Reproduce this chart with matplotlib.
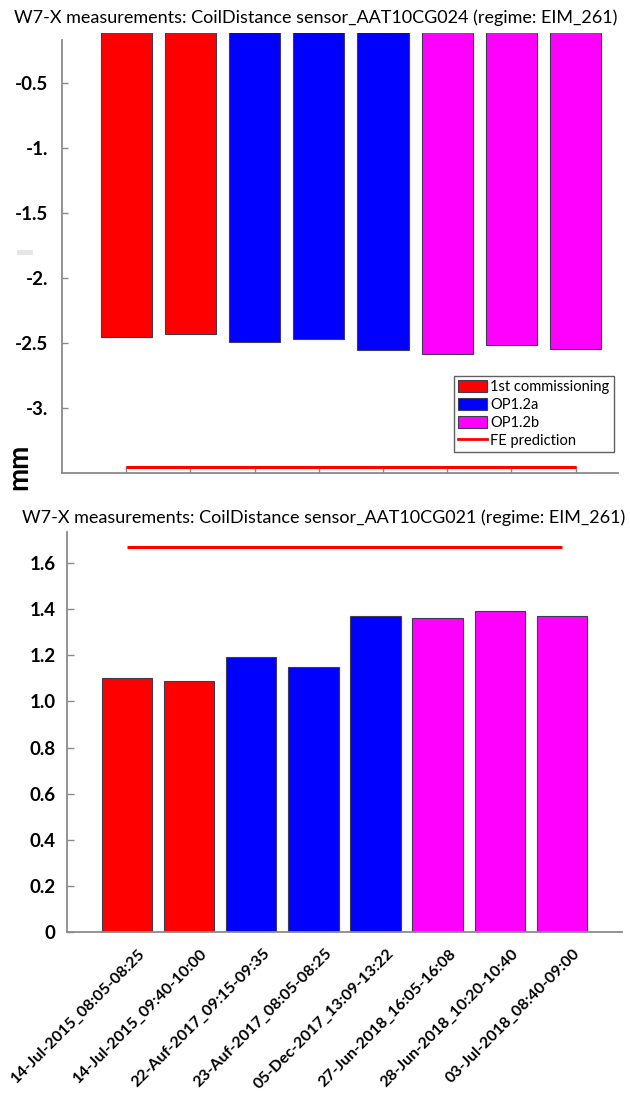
import numpy as np
import matplotlib
matplotlib.use("Agg")
import matplotlib.pyplot as plt
from matplotlib.patches import Patch, Rectangle
from matplotlib.lines import Line2D
from matplotlib.transforms import ScaledTranslation

plt.rcParams['font.family'] = ['Lato', 'DejaVu Sans']

# measurement windows
labels = ["14-Jul-2015_08:05-08:25", "14-Jul-2015_09:40-10:00",
          "22-Auf-2017_09:15-09:35", "23-Auf-2017_08:05-08:25",
          "05-Dec-2017_13:09-13:22", "27-Jun-2018_16:05-16:08",
          "28-Jun-2018_10:20-10:40", "03-Jul-2018_08:40-09:00"]
campaign = ["1st commissioning", "1st commissioning",
            "OP1.2a", "OP1.2a", "OP1.2a",
            "OP1.2b", "OP1.2b", "OP1.2b"]
campaign_colors = {"1st commissioning": "#ff0000", "OP1.2a": "#0000ff", "OP1.2b": "#ff00ff"}

# sensor AAT10CG024
top_vals = [-2.45, -2.43, -2.49, -2.47, -2.555, -2.58, -2.515, -2.545]
top_fe = -3.45
top_yticks = [-0.5, -1.0, -1.5, -2.0, -2.5, -3.0]
top_yticklabels = ["-0.5", "-1.", "-1.5", "-2.", "-2.5", "-3."]

# sensor AAT10CG021
bot_vals = [1.10, 1.09, 1.19, 1.15, 1.37, 1.36, 1.39, 1.37]
bot_fe = 1.667
bot_yticks = [0, 0.2, 0.4, 0.6, 0.8, 1.0, 1.2, 1.4, 1.6]
bot_yticklabels = ["0", "0.2", "0.4", "0.6", "0.8", "1.0", "1.2", "1.4", "1.6"]

W, H = 630, 1101
fig = plt.figure(figsize=(W / 100, H / 100), dpi=100)

def px_axes(l, t, r, b):
    return fig.add_axes([l / W, 1 - b / H, (r - l) / W, (b - t) / H])

x = np.arange(len(labels))
colors = [campaign_colors[c] for c in campaign]
grey = "#8a8a8a"
edge = "#3c3c55"

def style(ax):
    for s in ["top", "right"]:
        ax.spines[s].set_visible(False)
    for s in ["left", "bottom"]:
        ax.spines[s].set_color(grey)
        ax.spines[s].set_linewidth(1.3)
    ax.set_axisbelow(True)

# ---- top chart
ax1 = px_axes(62, 32.7, 618, 473.3)
style(ax1)
ax1.bar(x, top_vals, width=0.8, color=colors, edgecolor=edge, linewidth=0.8)
ax1.hlines(top_fe, x[0], x[-1], color="#ff0000", lw=2.2, zorder=3)
ax1.set_xlim(-1.0, 7.66)
ax1.set_ylim(-3.5, -0.11)
ax1.spines["left"].set_bounds(-3.5, -0.167)
ax1.set_xticks(x)
ax1.set_xticklabels([])
ax1.set_yticks(top_yticks)
ax1.set_yticklabels(top_yticklabels, fontsize=13.5, fontweight="bold")
ax1.tick_params(axis="x", direction="in", length=5, color=grey, width=1)
ax1.tick_params(axis="y", direction="in", length=4, color=grey, width=1, pad=10)

handles = [Patch(facecolor=campaign_colors[c], edgecolor=edge, linewidth=0.8)
           for c in ["1st commissioning", "OP1.2a", "OP1.2b"]]
handles.append(Line2D([], [], color="#ff0000", lw=2))
leg = ax1.legend(handles, ["1st commissioning", "OP1.2a", "OP1.2b", "FE prediction"],
                 loc="upper right", bbox_to_anchor=(614 / W, 1 - 376 / H),
                 bbox_transform=fig.transFigure, borderaxespad=0, fontsize=10.5,
                 handlelength=2.0, handleheight=0.9, handletextpad=0.2,
                 labelspacing=0.25, borderpad=0.3, fancybox=False, framealpha=1)
leg.get_frame().set_edgecolor("#606060")
leg.get_frame().set_linewidth(1.0)

fig.text(316 / W, 1 - 18 / H,
         "W7-X measurements: CoilDistance sensor_AAT10CG024 (regime: EIM_261)",
         ha="center", va="center", fontsize=13)
fig.text(19 / W, 1 - 467 / H, "mm", rotation=90, ha="center", va="center",
         fontsize=20, fontweight="bold")
fig.patches.append(Rectangle((17 / W, 1 - 255 / H), 16 / W, 5 / H,
                             transform=fig.transFigure, color="#e6e6e6", lw=0))

# ---- bottom chart
ax2 = px_axes(66.7, 532, 622, 932.3)
style(ax2)
ax2.bar(x, bot_vals, width=0.81, color=colors, edgecolor=edge, linewidth=0.8)
ax2.hlines(bot_fe, x[0], x[-1], color="#ff0000", lw=2.2, zorder=3)
ax2.set_xlim(-0.974, 7.97)
ax2.set_ylim(0, 1.733)
ax2.set_yticks(bot_yticks)
ax2.set_yticklabels(bot_yticklabels, fontsize=13.5, fontweight="bold")
ax2.tick_params(axis="y", direction="in", length=5, color=grey, width=1, pad=8)
ax2.set_xticks(x)
ax2.set_xticklabels([])
ax2.tick_params(axis="x", length=0)

# rotated date labels, shifted a little right of the bar centres
lab_tr = ax2.get_xaxis_transform() + ScaledTranslation(0.21, -0.14, fig.dpi_scale_trans)
for xi, lab in zip(x, labels):
    ax2.text(xi, 0, lab, transform=lab_tr, rotation=45, ha="right", va="top",
             fontsize=11.5, fontweight="bold")

fig.text(324 / W, 1 - 518 / H,
         "W7-X measurements: CoilDistance sensor_AAT10CG021 (regime: EIM_261)",
         ha="center", va="center", fontsize=13)

fig.savefig("out.png", dpi=100)
